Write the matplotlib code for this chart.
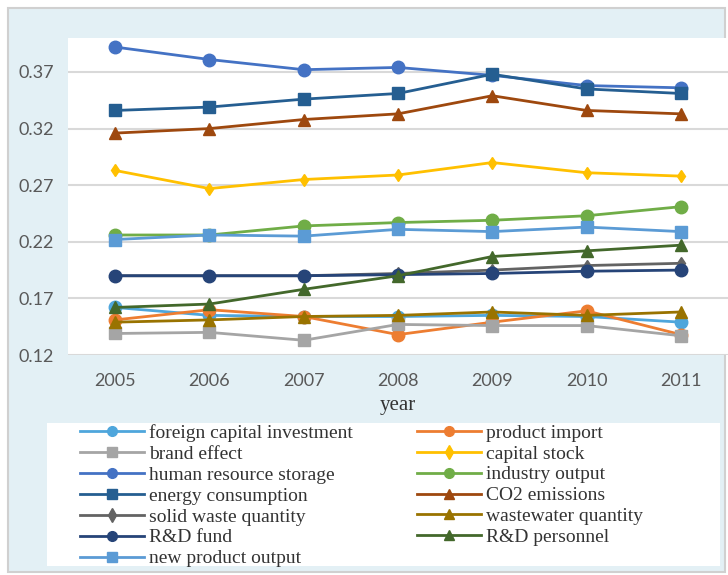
import matplotlib
matplotlib.use("Agg")
import matplotlib.pyplot as plt
from matplotlib.patches import Rectangle

years = [2005, 2006, 2007, 2008, 2009, 2010, 2011]
yticks = [0.12, 0.17, 0.22, 0.27, 0.32, 0.37]

foreign_capital = [0.162, 0.155, 0.154, 0.154, 0.155, 0.154, 0.149]
product_import = [0.151, 0.160, 0.154, 0.138, 0.149, 0.159, 0.138]
brand_effect = [0.139, 0.140, 0.133, 0.147, 0.146, 0.146, 0.137]
capital_stock = [0.283, 0.267, 0.275, 0.279, 0.290, 0.281, 0.278]
human_resource = [0.392, 0.381, 0.372, 0.374, 0.367, 0.358, 0.356]
industry_output = [0.226, 0.226, 0.234, 0.237, 0.239, 0.243, 0.251]
energy_consumption = [0.336, 0.339, 0.346, 0.351, 0.368, 0.355, 0.351]
co2_emissions = [0.316, 0.320, 0.328, 0.333, 0.349, 0.336, 0.333]
solid_waste = [0.190, 0.190, 0.190, 0.192, 0.195, 0.199, 0.201]
wastewater = [0.149, 0.151, 0.154, 0.155, 0.158, 0.155, 0.158]
rd_fund = [0.190, 0.190, 0.190, 0.191, 0.192, 0.194, 0.195]
rd_personnel = [0.162, 0.165, 0.178, 0.190, 0.207, 0.212, 0.217]
new_product = [0.222, 0.226, 0.225, 0.231, 0.229, 0.233, 0.229]

series = [
    ("foreign capital investment", foreign_capital, "#4ea6dc", "o"),
    ("product import", product_import, "#ed7d31", "o"),
    ("brand effect", brand_effect, "#a5a5a5", "s"),
    ("capital stock", capital_stock, "#ffc000", "d"),
    ("human resource storage", human_resource, "#4472c4", "o"),
    ("industry output", industry_output, "#70ad47", "o"),
    ("energy consumption", energy_consumption, "#255e91", "s"),
    ("CO2 emissions", co2_emissions, "#9e480e", "^"),
    ("solid waste quantity", solid_waste, "#636363", "d"),
    ("wastewater quantity", wastewater, "#997300", "^"),
    ("R&D fund", rd_fund, "#264478", "o"),
    ("R&D personnel", rd_personnel, "#43682b", "^"),
    ("new product output", new_product, "#5b9bd5", "s"),
]

plt.rcParams['font.family'] = ['Liberation Serif', 'DejaVu Serif']

fig = plt.figure(figsize=(7.28, 5.75), dpi=100)
fig.patch.set_facecolor("white")
fig.patches.append(Rectangle((8/728, 3/575), 717/728, 564/575, transform=fig.transFigure,
                             facecolor="#e3f0f5", edgecolor="#d0d0d0", lw=1.5, zorder=-10))
fig.patches.append(Rectangle((47/728, 1 - 566/575), 673/728, 143/575, transform=fig.transFigure,
                             facecolor="white", edgecolor="none", zorder=-5))

ax = fig.add_axes([68/728, 1 - 355/575, 660/728, 317/575])
ax.set_facecolor("white")
handles = []
for name, vals, color, mk in series:
    ms = 9 if mk in ("o", "s") else 8
    if mk == "d":
        ms = 6
    h, = ax.plot(years, vals, color=color, marker=mk, markersize=ms, lw=2, label=name)
    handles.append(h)

tick_font = dict(family=['Lato', 'DejaVu Sans'], size=13, color="#595959")
ax.set_xlim(2004.5, 2011.5)
ax.set_ylim(0.12, 0.40)
ax.set_yticks(yticks)
ax.set_yticklabels([f"{v:.2f}" for v in yticks], fontdict=tick_font)
ax.set_xticks(years)
ax.set_xticklabels([str(y) for y in years], fontdict=tick_font)
ax.grid(axis="y", color="#d9d9d9", lw=1.5)
ax.set_axisbelow(True)
for s in ax.spines.values():
    s.set_visible(False)
ax.tick_params(axis="x", length=0, pad=13)
ax.tick_params(axis="y", length=0, pad=10)
ax.set_xlabel("year", fontsize=15, labelpad=5, color="#333333")

common = dict(fontsize=14, frameon=False, handlelength=3.3, labelspacing=0.17,
              borderpad=0.0, handletextpad=0.25, borderaxespad=0, labelcolor="#333333")
left = [handles[i] for i in range(0, 13, 2)]
right = [handles[i] for i in range(1, 13, 2)]
leg1 = fig.legend(left, [h.get_label() for h in left], loc="upper left",
                  bbox_to_anchor=(80/728, 1 - 424/575), **common)
leg2 = fig.legend(right, [h.get_label() for h in right], loc="upper left",
                  bbox_to_anchor=(417/728, 1 - 424/575), **common)
for leg in (leg1, leg2):
    for h in leg.legend_handles:
        h.set_markersize(7)

fig.savefig("out.png", dpi=100)
